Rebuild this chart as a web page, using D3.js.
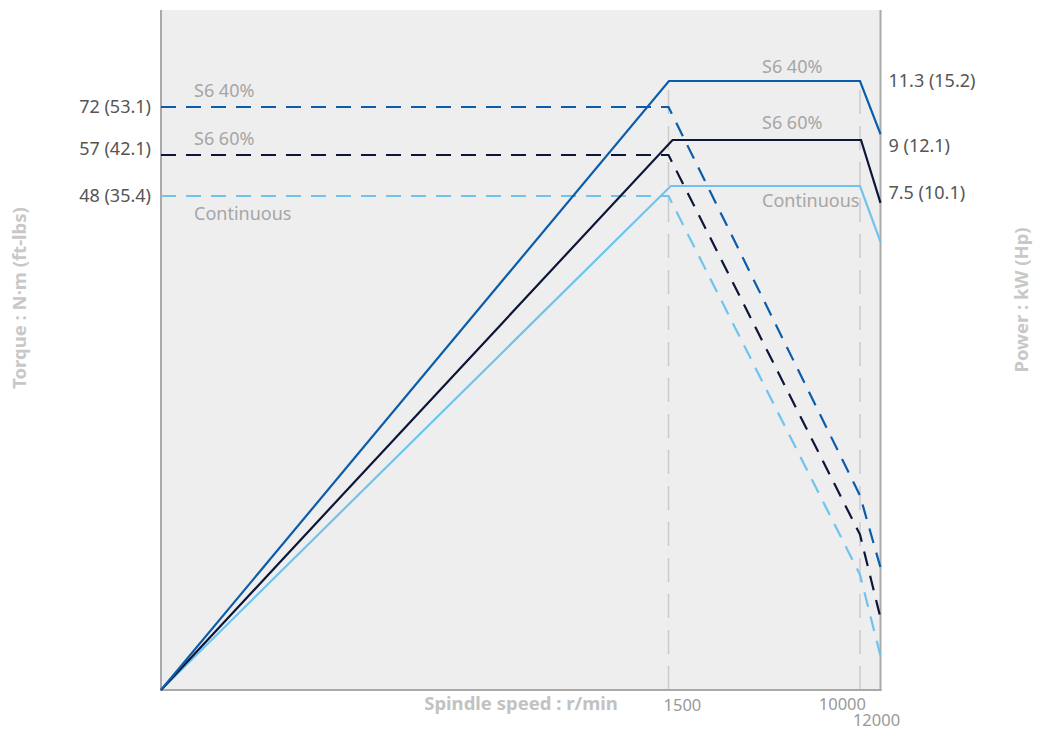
<!DOCTYPE html>
<html>
<head>
<meta charset="utf-8">
<script src="https://cdn.jsdelivr.net/npm/d3@7"></script>
<style>
  html, body { margin: 0; padding: 0; background: #ffffff; }
  svg { display: block; font-family: "Noto Sans", "Open Sans", sans-serif; }
</style>
</head>
<body>
<svg id="chart" width="1049" height="729"></svg>
<script>
// ---------- data ----------
const seriesNames = ["S6 40%", "S6 60%", "Continuous"];
const seriesColors = ["#0b5dab", "#0d1639", "#6ec4ee"];

// Torque (dashed): speed (r/min) -> torque (N·m)
const torqueSpeeds = [0, 1500, 10000, 12000];
const torqueS6_40 = [72, 72, 18.9, 11.9];
const torqueS6_60 = [57, 57, 15.1, 7.0];
const torqueCont  = [48, 48, 11.2, 3.3];

// Power (solid): speed (r/min) -> power (kW)
const powerSpeedsS6_40 = [0, 1520, 10000, 12000];
const powerSpeedsS6_60 = [0, 1680, 10100, 12000];
const powerSpeedsCont  = [0, 1600, 10000, 12000];
const powerS6_40 = [0, 11.3, 11.3, 9.23];
const powerS6_60 = [0, 9, 9, 7.25];
const powerCont  = [0, 7.5, 7.5, 6.67];

// tick values / labels
const speedTicks = [1500, 10000, 12000];
const torqueTickValues = [72, 57, 48];
const torqueTickLabels = ["72 (53.1)", "57 (42.1)", "48 (35.4)"];
const powerTickValues = [11.3, 9, 7.5];
const powerTickLabels = ["11.3 (15.2)", "9 (12.1)", "7.5 (10.1)"];

// ---------- layout ----------
const L = 161, R = 880.5, T = 10, B = 690;

const svg = d3.select("#chart");

// schematic (piecewise) scales, as in the original drawing
const x = d3.scaleLinear().domain([0, 1500, 10000, 12000]).range([L, 668.5, 860, R]);
const yT = d3.scaleLinear().domain([0, 48, 57, 72]).range([B, 196, 155, 107]);
const yP = d3.scaleLinear().domain([0, 7.5, 9, 11.3]).range([B, 186, 140, 81]);

// plot background
svg.append("rect").attr("x", L).attr("y", T).attr("width", R - L).attr("height", B - T)
  .attr("fill", "#eeeeee");

// vertical reference lines at 1500 and 10000
svg.selectAll("line.vref").data([1500, 10000]).enter().append("line")
  .attr("class", "vref")
  .attr("x1", d => x(d)).attr("x2", d => x(d))
  .attr("y1", B).attr("y2", 90)
  .attr("stroke", "#cccccc").attr("stroke-width", 1.5)
  .attr("stroke-dasharray", "24,12");

// axes frame
const frame = svg.append("g").attr("stroke", "#a9a9a9").attr("stroke-width", 2);
frame.append("line").attr("x1", L).attr("x2", L).attr("y1", T).attr("y2", B + 1);
frame.append("line").attr("x1", R).attr("x2", R).attr("y1", T).attr("y2", B + 1);
frame.append("line").attr("x1", L - 1).attr("x2", R + 1).attr("y1", B).attr("y2", B);

// lines
const torqueSeries = [torqueS6_40, torqueS6_60, torqueCont];
const powerSeries = [
  {s: powerSpeedsS6_40, v: powerS6_40},
  {s: powerSpeedsS6_60, v: powerS6_60},
  {s: powerSpeedsCont,  v: powerCont}
];

const tLine = d3.line().x(d => x(d[0])).y(d => yT(d[1]));
const pLine = d3.line().x(d => x(d[0])).y(d => yP(d[1]));

[2, 1, 0].forEach(i => {
  svg.append("path")
    .datum(torqueSpeeds.map((s, k) => [s, torqueSeries[i][k]]))
    .attr("d", tLine)
    .attr("fill", "none")
    .attr("stroke", seriesColors[i])
    .attr("stroke-width", 2.2)
    .attr("stroke-dasharray", "15,10");
});
[2, 1, 0].forEach(i => {
  svg.append("path")
    .datum(powerSeries[i].s.map((s, k) => [s, powerSeries[i].v[k]]))
    .attr("d", pLine)
    .attr("fill", "none")
    .attr("stroke", seriesColors[i])
    .attr("stroke-width", 2.2)
    .attr("stroke-linejoin", "miter");
});

// left tick labels (torque)
svg.selectAll("text.tl").data(torqueTickValues).enter().append("text")
  .attr("class", "tl")
  .attr("x", L - 10)
  .attr("y", (d, i) => yT(d) + (i === 1 ? -6 : 0))
  .attr("dy", "0.35em")
  .attr("text-anchor", "end")
  .attr("fill", "#555555")
  .attr("font-size", 18)
  .text((d, i) => torqueTickLabels[i]);

// right tick labels (power)
svg.selectAll("text.tr").data(powerTickValues).enter().append("text")
  .attr("class", "tr")
  .attr("x", R + 8)
  .attr("y", (d, i) => yP(d) + [0, 6, 7][i])
  .attr("dy", "0.35em")
  .attr("text-anchor", "start")
  .attr("fill", "#555555")
  .attr("font-size", 18)
  .text((d, i) => powerTickLabels[i]);

// series labels, left (torque) and right (power)
const leftOff = [-16, -16, 18];
svg.selectAll("text.sl").data(seriesNames).enter().append("text")
  .attr("class", "sl")
  .attr("x", 194)
  .attr("y", (d, i) => yT(torqueTickValues[i]) + leftOff[i])
  .attr("dy", "0.35em")
  .attr("fill", "#a6a6a6")
  .attr("font-size", 18)
  .text(d => d);
const rightOff = [-14, -17, 15];
svg.selectAll("text.sr").data(seriesNames).enter().append("text")
  .attr("class", "sr")
  .attr("x", 762)
  .attr("y", (d, i) => yP(powerTickValues[i]) + rightOff[i])
  .attr("dy", "0.35em")
  .attr("fill", "#a6a6a6")
  .attr("font-size", 18)
  .text(d => d);

// x tick labels
svg.selectAll("text.xt").data(speedTicks).enter().append("text")
  .attr("class", "xt")
  .attr("x", (d, i) => x(d) + [-5, 6, -4][i])
  .attr("y", (d, i) => B + [15, 14, 30][i])
  .attr("dy", "0.35em")
  .attr("text-anchor", (d, i) => ["start", "end", "middle"][i])
  .attr("fill", "#999999")
  .attr("font-size", 16.5)
  .text(d => d);

// axis titles
svg.append("text")
  .attr("x", 521).attr("y", B + 14).attr("dy", "0.35em")
  .attr("text-anchor", "middle")
  .attr("fill", "#c2c2c2").attr("font-weight", "bold").attr("font-size", 18.5)
  .text("Spindle speed : r/min");

svg.append("text")
  .attr("transform", "translate(20,298) rotate(-90)")
  .attr("dy", "0.35em")
  .attr("text-anchor", "middle")
  .attr("fill", "#c8c8c8").attr("font-weight", "bold").attr("font-size", 18.5)
  .text("Torque : N·m (ft-lbs)");

svg.append("text")
  .attr("transform", "translate(1022,300) rotate(-90)")
  .attr("dy", "0.35em")
  .attr("text-anchor", "middle")
  .attr("fill", "#c8c8c8").attr("font-weight", "bold").attr("font-size", 18.5)
  .text("Power : kW (Hp)");
</script>
</body>
</html>
